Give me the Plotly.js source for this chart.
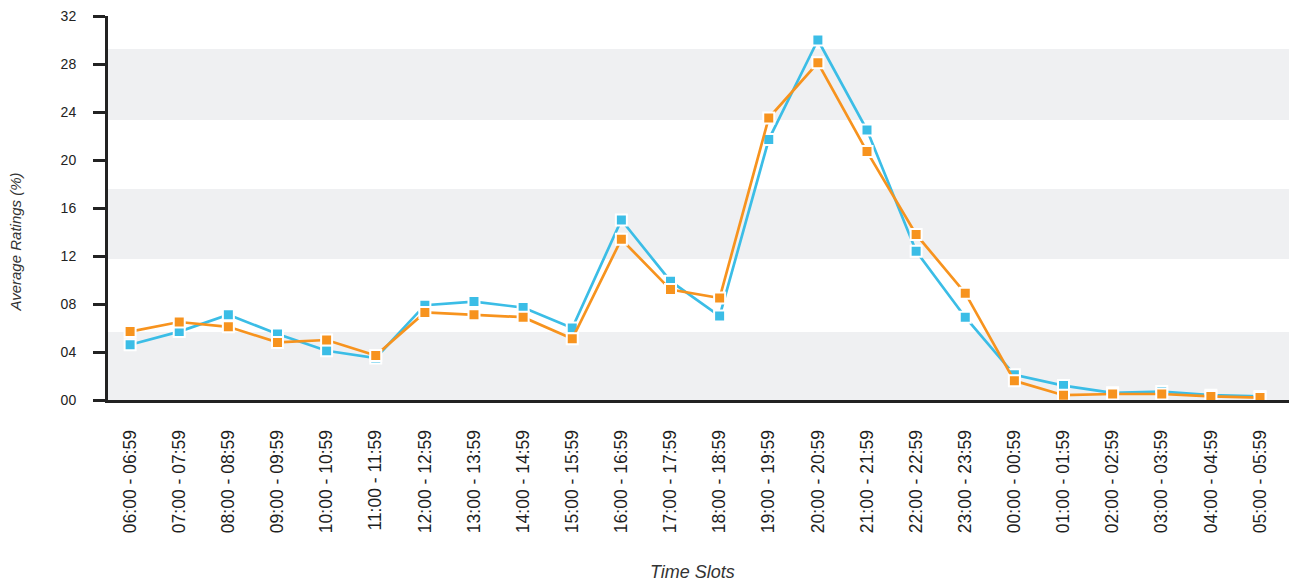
<!DOCTYPE html>
<html>
<head>
<meta charset="utf-8">
<script src="https://cdn.plot.ly/plotly-3.0.1.min.js"></script>
<style>
  html, body { margin: 0; padding: 0; background: #ffffff; }
  #chart { width: 1289px; height: 586px; }
</style>
</head>
<body>
<div id="chart"></div>
<script>
// Hourly time slots
const timeSlots = [
  "06:00 - 06:59", "07:00 - 07:59", "08:00 - 08:59", "09:00 - 09:59",
  "10:00 - 10:59", "11:00 - 11:59", "12:00 - 12:59", "13:00 - 13:59",
  "14:00 - 14:59", "15:00 - 15:59", "16:00 - 16:59", "17:00 - 17:59",
  "18:00 - 18:59", "19:00 - 19:59", "20:00 - 20:59", "21:00 - 21:59",
  "22:00 - 22:59", "23:00 - 23:59", "00:00 - 00:59", "01:00 - 01:59",
  "02:00 - 02:59", "03:00 - 03:59", "04:00 - 04:59", "05:00 - 05:59"
];

// Average ratings (%) per slot
const seriesBlue = [4.6, 5.7, 7.1, 5.5, 4.1, 3.5, 7.9, 8.2, 7.7, 6.0, 15.0, 9.9,
                    7.0, 21.7, 30.0, 22.5, 12.4, 6.9, 2.1, 1.2, 0.6, 0.7, 0.4, 0.3];
const seriesOrange = [5.7, 6.5, 6.1, 4.8, 5.0, 3.7, 7.3, 7.1, 6.9, 5.1, 13.4, 9.2,
                      8.5, 23.5, 28.1, 20.7, 13.8, 8.9, 1.6, 0.4, 0.5, 0.5, 0.3, 0.2];

// Y axis ticks
const yTickValues = [0, 4, 8, 12, 16, 20, 24, 28, 32];
const yTickLabels = ["00", "04", "08", "12", "16", "20", "24", "28", "32"];

// Alternating background bands (value ranges)
const bandRanges = [[0, 5.67], [11.75, 17.58], [23.33, 29.25]];

const BLUE = "#3bbde6";
const ORANGE = "#f7931e";
const FONT = "'Liberation Sans', Arial, Helvetica, sans-serif";

const xIdx = timeSlots.map((_, i) => i);

function lineTrace(values, color, name) {
  return {
    type: "scatter",
    mode: "lines+markers",
    name: name,
    x: xIdx,
    y: values,
    line: { color: color, width: 2.7 },
    marker: { symbol: "square", size: 11, color: color, line: { color: "#ffffff", width: 2 } },
    cliponaxis: false,
    hoverinfo: "x+y"
  };
}

const data = [
  lineTrace(seriesBlue, BLUE, "Series A"),
  lineTrace(seriesOrange, ORANGE, "Series B")
];

const shapes = bandRanges.map(r => ({
  type: "rect", layer: "below",
  xref: "paper", x0: 0, x1: 1,
  yref: "y", y0: r[0], y1: r[1],
  fillcolor: "#eff0f2", line: { width: 0 }
}));

const layout = {
  width: 1289,
  height: 586,
  margin: { l: 108, r: 0, t: 16, b: 186 },
  paper_bgcolor: "#ffffff",
  plot_bgcolor: "#ffffff",
  showlegend: false,
  font: { family: FONT, color: "#222222" },
  xaxis: {
    range: [-0.45, 23.59],
    tickvals: xIdx,
    ticktext: timeSlots,
    tickangle: -90,
    tickfont: { family: FONT, size: 17.5, color: "#1e1e1e" },
    ticks: "",
    ticklabelstandoff: 20,
    showgrid: false,
    zeroline: false,
    showline: true,
    linecolor: "#222222",
    linewidth: 3,
    fixedrange: true
  },
  yaxis: {
    range: [0, 32],
    tickvals: yTickValues,
    ticktext: yTickLabels,
    tickfont: { family: FONT, size: 14, color: "#222222" },
    ticks: "outside",
    ticklen: 12,
    tickwidth: 3,
    tickcolor: "#222222",
    ticklabelstandoff: 14,
    showgrid: false,
    zeroline: false,
    showline: true,
    linecolor: "#222222",
    linewidth: 3,
    fixedrange: true
  },
  shapes: shapes,
  annotations: [
    {
      text: "Average Ratings (%)",
      xref: "paper", yref: "paper",
      x: -0.0779, y: 0.41,
      xanchor: "center", yanchor: "middle",
      textangle: -90,
      showarrow: false,
      font: { family: FONT, size: 15, color: "#333333", style: "italic" }
    },
    {
      text: "Time Slots",
      xref: "paper", yref: "paper",
      x: 0.4953, y: -0.448,
      xanchor: "center", yanchor: "middle",
      showarrow: false,
      font: { family: FONT, size: 18, color: "#333333", style: "italic" }
    }
  ]
};

Plotly.newPlot("chart", data, layout, { displayModeBar: false, staticPlot: true });
</script>
</body>
</html>
